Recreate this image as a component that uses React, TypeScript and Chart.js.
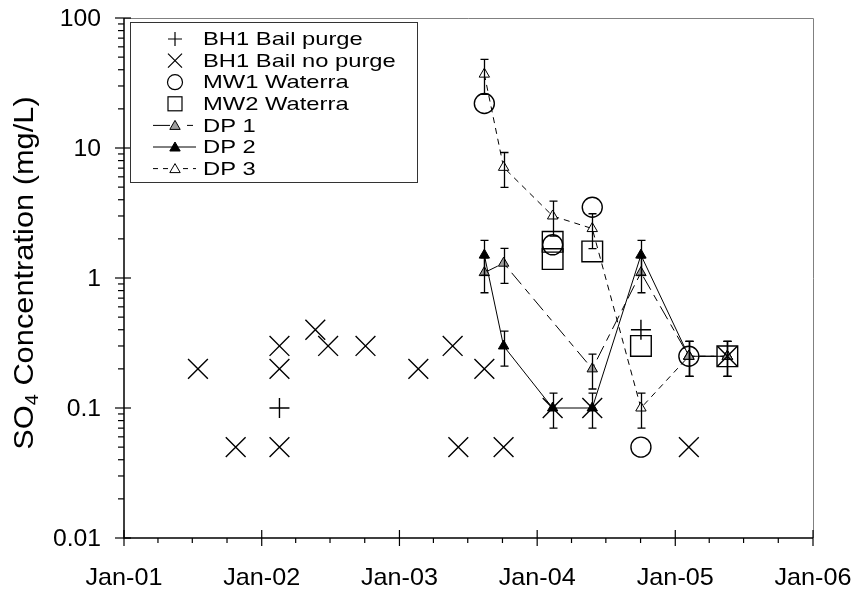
import React, { useEffect, useRef } from 'react';
import { Chart, registerables } from 'chart.js';

Chart.register(...registerables);

// ---------- data ----------
const bh1PurgeDates = ['2002-02-17', '2004-10-02'];
const bh1PurgeValues = [0.1, 0.4];

const bh1NoPurgeDates = [
  '2001-07-16', '2001-10-24', '2002-02-17', '2002-02-17', '2002-02-17', '2002-05-23',
  '2002-06-26', '2002-10-03', '2003-02-20', '2003-05-22', '2003-06-06', '2003-08-14',
  '2003-10-04', '2004-02-11', '2004-05-26', '2005-02-06', '2005-05-19',
];
const bh1NoPurgeValues = [
  0.2, 0.05, 0.3, 0.2, 0.05, 0.4, 0.3, 0.3, 0.2, 0.3, 0.05, 0.2, 0.05, 0.1, 0.1, 0.05, 0.25,
];

const mw1Dates = ['2003-08-14', '2004-02-11', '2004-05-26', '2004-10-02', '2005-02-06'];
const mw1Values = [22, 1.8, 3.5, 0.05, 0.25];

const mw2Dates = ['2004-02-11', '2004-02-11', '2004-05-26', '2004-10-02', '2005-05-19'];
const mw2Values = [1.9, 1.4, 1.6, 0.3, 0.25];

const dp1Dates = ['2003-08-14', '2003-10-04', '2004-05-26', '2004-10-02', '2005-02-06', '2005-05-19'];
const dp1Values = [1.1, 1.3, 0.2, 1.1, 0.25, 0.25];

const dp2Dates = ['2003-08-14', '2003-10-04', '2004-02-11', '2004-05-26', '2004-10-02', '2005-02-06', '2005-05-19'];
const dp2Values = [1.5, 0.3, 0.1, 0.1, 1.5, 0.25, 0.25];

const dp3Dates = ['2003-08-14', '2003-10-04', '2004-02-11', '2004-05-26', '2004-10-02', '2005-02-06', '2005-05-19'];
const dp3Values = [37, 7.1, 3.0, 2.4, 0.1, 0.25, 0.25];

const dpErrorFraction = 0.3;

const seriesNames = ['BH1 Bail purge', 'BH1 Bail no purge', 'MW1 Waterra', 'MW2 Waterra', 'DP 1', 'DP 2', 'DP 3'];

const xTickYears = [2001, 2002, 2003, 2004, 2005, 2006];
const xTickLabels = ['Jan-01', 'Jan-02', 'Jan-03', 'Jan-04', 'Jan-05', 'Jan-06'];
const yMajorTicks = [0.01, 0.1, 1, 10, 100];
const yTickLabels = ['0.01', '0.1', '1', '10', '100'];

// ---------- helpers ----------
const FONT = '"Liberation Sans", Arial, Helvetica, sans-serif';
const toMs = (s: string) => {
  const [y, m, d] = s.split('-').map(Number);
  return Date.UTC(y, m - 1, d);
};
const pts = (dates: string[], vals: number[]) => dates.map((d, i) => ({ x: toMs(d), y: vals[i] }));

function drawText(
  ctx: CanvasRenderingContext2D,
  s: string,
  x: number,
  y: number,
  size: number,
  align: CanvasTextAlign,
  baseline: CanvasTextBaseline,
  sx = 1,
  rot = 0
) {
  ctx.save();
  ctx.translate(x, y);
  if (rot) ctx.rotate(rot);
  ctx.scale(sx, 1);
  ctx.font = `${size}px ${FONT}`;
  ctx.fillStyle = '#000';
  ctx.textAlign = align;
  ctx.textBaseline = baseline;
  ctx.fillText(s, 0, 0);
  ctx.restore();
}

function triangle(ctx: CanvasRenderingContext2D, x: number, y: number, r: number, fill: string) {
  ctx.beginPath();
  for (let i = 0; i < 3; i++) {
    const a = (i * 2 * Math.PI) / 3;
    const px = x + Math.sin(a) * r;
    const py = y - Math.cos(a) * r;
    if (i === 0) ctx.moveTo(px, py);
    else ctx.lineTo(px, py);
  }
  ctx.closePath();
  ctx.fillStyle = fill;
  ctx.fill();
  ctx.stroke();
}

const DP1_DASH = [15, 6, 7, 6];
const DP3_DASH = [6, 5];

const customPlugin = {
  id: 'customAxes',
  beforeDatasetsDraw(chart: any) {
    const { ctx, chartArea: a } = chart;
    ctx.save();
    ctx.strokeStyle = '#808080';
    ctx.lineWidth = 1;
    ctx.beginPath();
    ctx.moveTo(a.left, a.top + 0.5);
    ctx.lineTo(a.right + 0.5, a.top + 0.5);
    ctx.lineTo(a.right + 0.5, a.bottom);
    ctx.stroke();
    ctx.restore();
  },
  afterDatasetsDraw(chart: any) {
    const { ctx } = chart;
    const xs = chart.scales.x;
    const ys = chart.scales.y;
    ctx.save();
    ctx.strokeStyle = '#000';
    ctx.lineWidth = 1.3;
    [4, 5, 6].forEach((di) => {
      chart.data.datasets[di].data.forEach((p: any) => {
        const x = Math.round(xs.getPixelForValue(p.x)) + 0.5;
        const yt = ys.getPixelForValue(p.y * (1 + dpErrorFraction));
        const yb = ys.getPixelForValue(p.y * (1 - dpErrorFraction));
        ctx.beginPath();
        ctx.moveTo(x, yt);
        ctx.lineTo(x, yb);
        ctx.moveTo(x - 4, yt);
        ctx.lineTo(x + 4, yt);
        ctx.moveTo(x - 4, yb);
        ctx.lineTo(x + 4, yb);
        ctx.stroke();
      });
    });
    ctx.restore();
  },
  afterDraw(chart: any) {
    const { ctx, chartArea: a } = chart;
    const xs = chart.scales.x;
    const ys = chart.scales.y;
    ctx.save();
    ctx.strokeStyle = '#000';
    ctx.lineWidth = 1.5;
    // axes
    ctx.beginPath();
    ctx.moveTo(a.left, a.top);
    ctx.lineTo(a.left, a.bottom);
    ctx.lineTo(a.right, a.bottom);
    ctx.stroke();

    ctx.lineWidth = 1.2;
    // y ticks
    for (let e = -2; e <= 2; e++) {
      const major = Math.pow(10, e);
      const y = ys.getPixelForValue(major);
      ctx.beginPath();
      ctx.moveTo(a.left - 9, y);
      ctx.lineTo(a.left + 7, y);
      ctx.stroke();
      if (e < 2) {
        for (let k = 2; k <= 9; k++) {
          const ym = ys.getPixelForValue(k * major);
          ctx.beginPath();
          ctx.moveTo(a.left - 6, ym);
          ctx.lineTo(a.left, ym);
          ctx.stroke();
        }
      }
    }
    yMajorTicks.forEach((v, i) => {
      drawText(ctx, yTickLabels[i], a.left - 23, ys.getPixelForValue(v) + 1, 24, 'right', 'middle', 1.03);
    });

    // x ticks
    xTickYears.forEach((yr, i) => {
      const x = xs.getPixelForValue(Date.UTC(yr, 0, 1));
      ctx.beginPath();
      ctx.moveTo(x, a.bottom - 8);
      ctx.lineTo(x, a.bottom + 8);
      ctx.stroke();
      if (i < xTickYears.length - 1) {
        for (const m of [3, 6, 9]) {
          const xm = xs.getPixelForValue(Date.UTC(yr, m, 1));
          ctx.beginPath();
          ctx.moveTo(xm, a.bottom);
          ctx.lineTo(xm, a.bottom + 5);
          ctx.stroke();
        }
      }
      drawText(ctx, xTickLabels[i], x, a.bottom + 40, 24, 'center', 'middle', 1.05);
    });

    // y title with subscript
    const tSize = 28;
    const sSize = 18;
    const tsx = 1.1;
    ctx.font = `${tSize}px ${FONT}`;
    const w1 = ctx.measureText('SO').width * tsx;
    const w3 = ctx.measureText(' Concentration (mg/L)').width * tsx;
    ctx.font = `${sSize}px ${FONT}`;
    const w2 = ctx.measureText('4').width * tsx;
    const total = w1 + w2 + w3;
    const cy = 273;
    const bx = 33;
    let yy = cy + total / 2;
    drawText(ctx, 'SO', bx, yy, tSize, 'left', 'alphabetic', tsx, -Math.PI / 2);
    yy -= w1;
    drawText(ctx, '4', bx + 5, yy, sSize, 'left', 'alphabetic', tsx, -Math.PI / 2);
    yy -= w2;
    drawText(ctx, ' Concentration (mg/L)', bx, yy, tSize, 'left', 'alphabetic', tsx, -Math.PI / 2);

    // legend
    const lx = 130.5, ly = 22.5, lw = 287, lh = 160;
    ctx.lineWidth = 1;
    ctx.strokeStyle = '#333';
    ctx.fillStyle = '#fff';
    ctx.fillRect(lx, ly, lw, lh);
    ctx.strokeRect(lx, ly, lw, lh);
    const rowY = (i: number) => 39 + i * 21.6;
    const sxC = 175;
    ctx.strokeStyle = '#000';
    ctx.lineWidth = 1.2;
    // +
    let y = rowY(0);
    ctx.beginPath();
    ctx.moveTo(sxC - 7, y); ctx.lineTo(sxC + 7, y);
    ctx.moveTo(sxC, y - 7); ctx.lineTo(sxC, y + 7);
    ctx.stroke();
    // x
    y = rowY(1);
    ctx.beginPath();
    ctx.moveTo(sxC - 7, y - 7); ctx.lineTo(sxC + 7, y + 7);
    ctx.moveTo(sxC + 7, y - 7); ctx.lineTo(sxC - 7, y + 7);
    ctx.stroke();
    // circle
    y = rowY(2);
    ctx.beginPath();
    ctx.arc(sxC, y, 7.5, 0, Math.PI * 2);
    ctx.stroke();
    // square
    y = rowY(3);
    ctx.strokeRect(sxC - 7, y - 7, 14, 14);
    // DP1
    ctx.lineWidth = 1;
    y = rowY(4);
    ctx.beginPath();
    ctx.moveTo(153, y); ctx.lineTo(170, y);
    ctx.moveTo(187, y); ctx.lineTo(193, y);
    ctx.stroke();
    triangle(ctx, sxC, y + 1, 6, '#a0a0a0');
    // DP2
    y = rowY(5);
    ctx.beginPath();
    ctx.moveTo(153, y); ctx.lineTo(196, y);
    ctx.stroke();
    triangle(ctx, sxC, y + 1, 6, '#000');
    // DP3
    y = rowY(6);
    ctx.save();
    ctx.setLineDash([5, 5]);
    ctx.beginPath();
    ctx.moveTo(153, y); ctx.lineTo(196, y);
    ctx.stroke();
    ctx.restore();
    triangle(ctx, sxC, y + 1, 6, '#fff');
    seriesNames.forEach((n, i) => {
      drawText(ctx, n, 203, rowY(i) + 1, 19, 'left', 'middle', 1.25);
    });
    ctx.restore();
  },
};

export default function App() {
  const ref = useRef<HTMLCanvasElement>(null);
  useEffect(() => {
    document.body.style.margin = '0';
    document.body.style.overflow = 'hidden';
    const canvas = ref.current;
    if (!canvas) return;
    const marker = (extra: any) => ({
      showLine: false,
      borderColor: '#000',
      pointBorderColor: '#000',
      pointBackgroundColor: 'rgba(0,0,0,0)',
      pointBorderWidth: 1.4,
      ...extra,
    });
    const dpLine = (extra: any) => ({
      showLine: true,
      borderColor: '#000',
      borderWidth: 1,
      tension: 0,
      pointStyle: 'triangle',
      pointRadius: 6,
      pointBorderColor: '#000',
      pointBorderWidth: 1,
      ...extra,
    });
    const chart = new Chart(canvas, {
      type: 'scatter',
      data: {
        datasets: [
          marker({ label: seriesNames[0], data: pts(bh1PurgeDates, bh1PurgeValues), pointStyle: 'cross', pointRadius: 10 }),
          marker({ label: seriesNames[1], data: pts(bh1NoPurgeDates, bh1NoPurgeValues), pointStyle: 'crossRot', pointRadius: 14 }),
          marker({ label: seriesNames[2], data: pts(mw1Dates, mw1Values), pointStyle: 'circle', pointRadius: 10 }),
          marker({ label: seriesNames[3], data: pts(mw2Dates, mw2Values), pointStyle: 'rect', pointRadius: 14.6 }),
          dpLine({ label: seriesNames[4], data: pts(dp1Dates, dp1Values), borderDash: DP1_DASH, pointBackgroundColor: '#a0a0a0' }),
          dpLine({ label: seriesNames[5], data: pts(dp2Dates, dp2Values), pointBackgroundColor: '#000' }),
          dpLine({ label: seriesNames[6], data: pts(dp3Dates, dp3Values), borderDash: DP3_DASH, pointBackgroundColor: '#fff' }),
        ],
      },
      options: {
        animation: false,
        responsive: false,
        layout: { padding: { left: 124, top: 18, right: 46, bottom: 54 } },
        plugins: { legend: { display: false }, tooltip: { enabled: false } },
        scales: {
          x: { type: 'linear', display: false, min: Date.UTC(2001, 0, 1), max: Date.UTC(2006, 0, 1) },
          y: { type: 'logarithmic', display: false, min: 0.01, max: 100 },
        },
      },
      plugins: [customPlugin],
    } as any);
    return () => chart.destroy();
  }, []);
  return <canvas ref={ref} width={859} height={592} style={{ display: 'block' }} />;
}
